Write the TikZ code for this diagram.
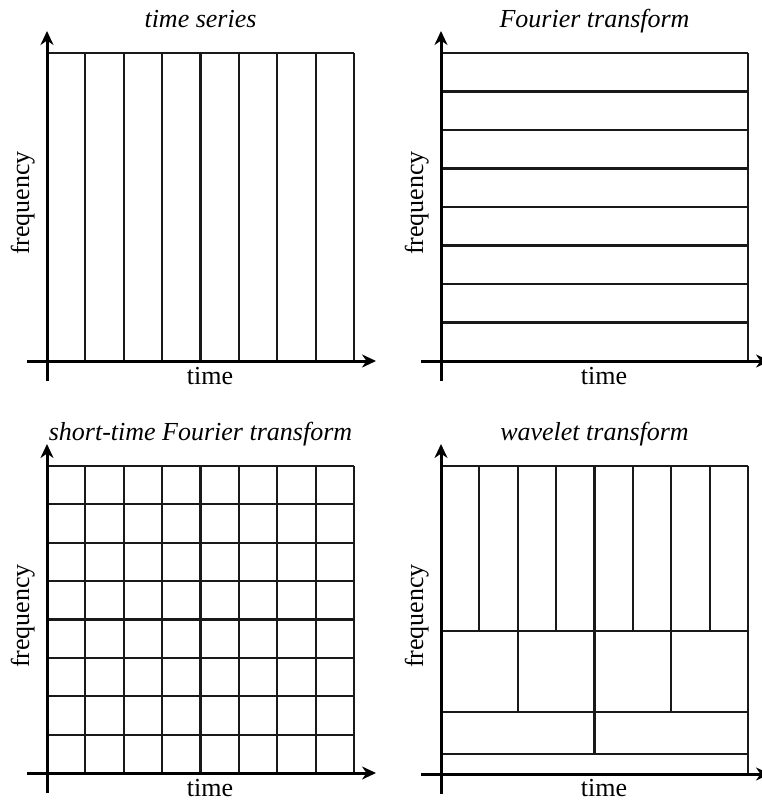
\documentclass[tikz,border=0pt]{standalone}
\usepackage{fontspec}
\setmainfont{Liberation Serif}
\usetikzlibrary{arrows.meta}
\begin{document}
\begin{tikzpicture}[x=1pt,y=-1pt,
  gridline/.style={line width=2.2pt, draw=black!90},
  axis/.style={line width=3pt, draw=black, -{Stealth[length=14pt,width=13pt,inset=4.5pt]}},
  ttl/.style={font=\fontsize{26}{28}\selectfont\itshape, inner sep=0pt, anchor=base},
  lbl/.style={font=\fontsize{26}{28}\selectfont, inner sep=0pt, anchor=base}]
\useasboundingbox (0,0) rectangle (761,801);

% ---------- time series ----------
\begin{scope}[shift={(47,53)}]
  \foreach \i in {1,...,8} \draw[gridline] ({\i*307/8},0) -- ({\i*307/8},308);
  \draw[gridline] (0,0) -- (307,0);
  \coordinate (ya1) at (0,328); \coordinate (yb1) at (0,-22);
  \coordinate (xa1) at (-20,308); \coordinate (xb1) at (329,308);
  \draw[axis] (ya1) -- (yb1);
  \draw[axis] (xa1) -- (xb1);
  \node[ttl] (t1) at (153.5,-26) {time series};
  \node[lbl] (x1) at (163,331) {time};
  \node[lbl, rotate=90] (f1) at (-18,150) {frequency};
\end{scope}

% ---------- Fourier transform ----------
\begin{scope}[shift={(441,53)}]
  \foreach \i in {0,...,7} \draw[gridline] (0,{\i*308/8}) -- (307,{\i*308/8});
  \draw[gridline] (307,0) -- (307,308);
  \coordinate (ya2) at (0,328); \coordinate (yb2) at (0,-22);
  \coordinate (xa2) at (-20,308); \coordinate (xb2) at (329,308);
  \draw[axis] (ya2) -- (yb2);
  \draw[axis] (xa2) -- (xb2);
  \node[ttl] (t2) at (153.5,-26) {Fourier transform};
  \node[lbl] (x2) at (163,331) {time};
  \node[lbl, rotate=90] (f2) at (-18,150) {frequency};
\end{scope}

% ---------- short-time Fourier transform ----------
\begin{scope}[shift={(47,466)}]
  \foreach \i in {1,...,8} \draw[gridline] ({\i*307/8},0) -- ({\i*307/8},307);
  \foreach \i in {0,...,7} \draw[gridline] (0,{\i*307/8}) -- (307,{\i*307/8});
  \coordinate (ya3) at (0,327); \coordinate (yb3) at (0,-22);
  \coordinate (xa3) at (-20,307); \coordinate (xb3) at (329,307);
  \draw[axis] (ya3) -- (yb3);
  \draw[axis] (xa3) -- (xb3);
  \node[ttl] (t3) at (153.5,-26) {short-time Fourier transform};
  \node[lbl] (x3) at (163,330) {time};
  \node[lbl, rotate=90] (f3) at (-18,150) {frequency};
\end{scope}

% ---------- wavelet transform ----------
\begin{scope}[shift={(441,466)}]
  \foreach \yy in {0,165,246,288} \draw[gridline] (0,\yy) -- (307,\yy);
  \draw[gridline] (307,0) -- (307,308);
  \foreach \i in {1,...,7} \draw[gridline] ({\i*307/8},0) -- ({\i*307/8},165);
  \foreach \i in {2,4,6} \draw[gridline] ({\i*307/8},165) -- ({\i*307/8},246);
  \draw[gridline] ({4*307/8},246) -- ({4*307/8},288);
  \coordinate (ya4) at (0,328); \coordinate (yb4) at (0,-22);
  \coordinate (xa4) at (-20,308); \coordinate (xb4) at (329,308);
  \draw[axis] (ya4) -- (yb4);
  \draw[axis] (xa4) -- (xb4);
  \node[ttl] (t4) at (153.5,-26) {wavelet transform};
  \node[lbl] (x4) at (163,330) {time};
  \node[lbl, rotate=90] (f4) at (-18,150) {frequency};
\end{scope}
\end{tikzpicture}
\end{document}
